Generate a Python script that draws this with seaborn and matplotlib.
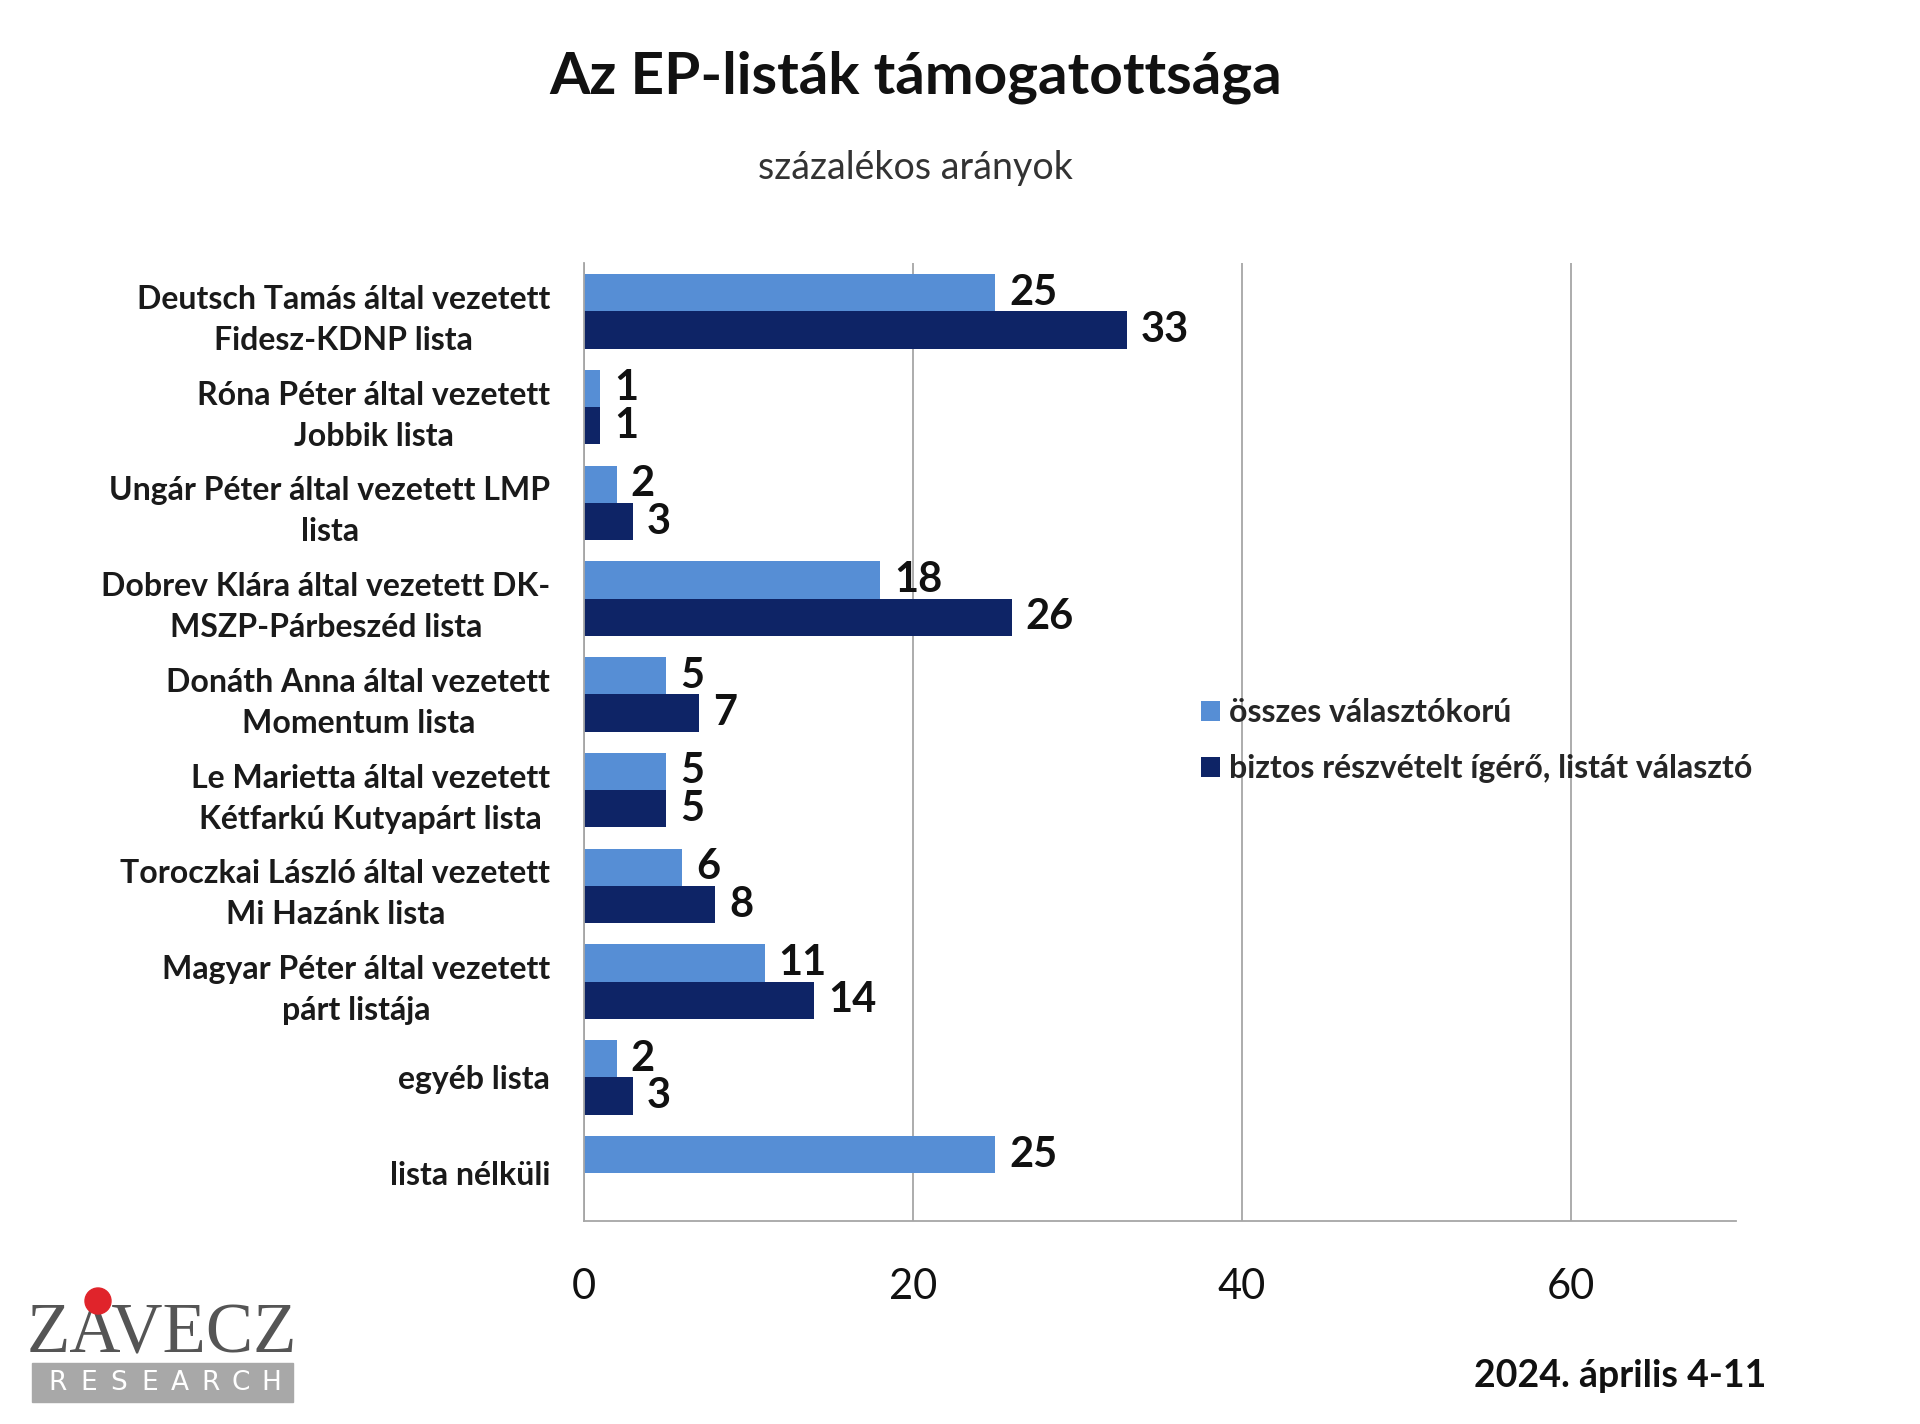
import numpy as np
import pandas as pd
import matplotlib.pyplot as plt
import seaborn as sns
from matplotlib.patches import Rectangle, Ellipse

# --- data ---
lists = [
    "Deutsch Tamás által vezetett\nFidesz-KDNP lista",
    "Róna Péter által vezetett\nJobbik lista",
    "Ungár Péter által vezetett LMP\nlista",
    "Dobrev Klára által vezetett DK-\nMSZP-Párbeszéd lista",
    "Donáth Anna által vezetett\nMomentum lista",
    "Le Marietta által vezetett\nKétfarkú Kutyapárt lista",
    "Toroczkai László által vezetett\nMi Hazánk lista",
    "Magyar Péter által vezetett\npárt listája",
    "egyéb lista",
    "lista nélküli",
]
all_voters = [25, 1, 2, 18, 5, 5, 6, 11, 2, 25]
sure_voters = [33, 1, 3, 26, 7, 5, 8, 14, 3, np.nan]
series_names = ["összes választókorú", "biztos részvételt ígérő, listát választó"]
x_ticks = [0, 20, 40, 60]

LIGHT = "#568ed5"
DARK = "#0e2466"
GRID = "#a6a6a6"

df = pd.DataFrame({
    "lista": lists * 2,
    "csoport": [series_names[0]] * len(lists) + [series_names[1]] * len(lists),
    "ertek": all_voters + sure_voters,
})

sns.set_style("white")
plt.rcParams["font.family"] = ["Lato", "DejaVu Sans"]

fig = plt.figure(figsize=(19.2, 14.24), dpi=100)
ax = fig.add_axes([0.304, 0.1425, 0.600, 0.6725])

sns.barplot(data=df, y="lista", x="ertek", hue="csoport", order=lists,
            hue_order=series_names, orient="h", palette=[LIGHT, DARK],
            saturation=1, width=0.78, gap=0, errorbar=None, linewidth=0, ax=ax)

# value labels
for cont in ax.containers:
    labels = ["%d" % v if np.isfinite(v) else "" for v in cont.datavalues]
    ax.bar_label(cont, labels=labels, padding=10, fontsize=30,
                 fontweight="bold", color="#111111")

# axes styling
ax.set_xlim(0, 70)
ax.set_xticks(x_ticks)
ax.set_xlabel("")
ax.set_ylabel("")
ax.xaxis.grid(True, color=GRID, lw=1.3)
ax.yaxis.grid(False)
for s in ["top", "right"]:
    ax.spines[s].set_visible(False)
for s in ["left", "bottom"]:
    ax.spines[s].set_color(GRID)
    ax.spines[s].set_linewidth(1.3)
ax.tick_params(axis="x", length=0, pad=34, labelsize=30, labelcolor="#111111")
ax.tick_params(axis="y", which="major", length=0, pad=24)
ax.set_yticks(np.arange(-0.5, len(lists), 1), minor=True)
ax.tick_params(axis="y", which="minor", length=6, color=GRID, width=1.3)
for t in ax.get_yticklabels():
    t.set_fontsize(23)
    t.set_fontweight("bold")
    t.set_color("#1a1a1a")
    t.set_linespacing(1.5)
    t.set_horizontalalignment("right")
    t.set_multialignment("center")

ax.legend(loc="center left", bbox_to_anchor=(0.617, 0.480),
          bbox_transform=fig.transFigure, frameon=False,
          prop={"size": 23, "weight": "bold"},
          handlelength=0.6, handleheight=0.6, handletextpad=0.3,
          labelspacing=0.85, borderpad=0)

# titles
fig.text(0.477, 0.946, "Az EP-listák támogatottsága", ha="center", va="center",
         fontsize=42, fontweight="bold", color="#111111")
fig.text(0.477, 0.882, "százalékos arányok", ha="center", va="center",
         fontsize=27, color="#333333")
fig.text(0.920, 0.034, "2024. április 4-11", ha="right", va="center",
         fontsize=27, fontweight="bold", color="#111111")

# logo
fig.text(0.014, 0.050, "ZAVECZ", ha="left", va="baseline", fontsize=51,
         family="Liberation Serif", color="#555555")
fig.patches.append(Ellipse((98 / 1920, 1 - 1301 / 1424), 26 / 1920, 26 / 1424,
                           transform=fig.transFigure, color="#e0242b", zorder=5))
fig.patches.append(Rectangle((32 / 1920, 1 - 1402 / 1424), 261 / 1920, 39 / 1424,
                             transform=fig.transFigure, color="#a8a8a8"))
for i, ch in enumerate("RESEARCH"):
    fig.text((58 + i * 30.5) / 1920, 1 - 1383 / 1424, ch, ha="center", va="center",
             fontsize=19, color="white", family="DejaVu Sans")

fig.savefig("out.png", dpi=100)
